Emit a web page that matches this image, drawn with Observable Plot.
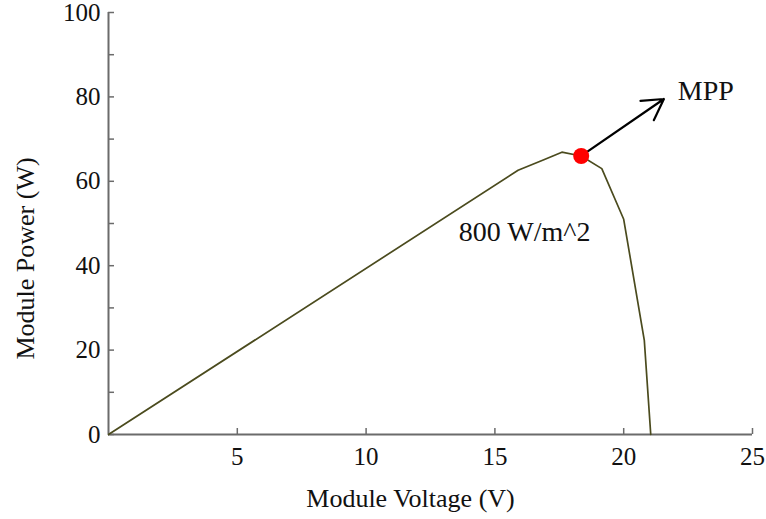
<!DOCTYPE html>
<html>
<head>
<meta charset="utf-8">
<script src="https://cdn.jsdelivr.net/npm/d3@7"></script>
<script src="https://cdn.jsdelivr.net/npm/@observablehq/plot@0.6"></script>
<style>
  html, body { margin: 0; padding: 0; background: #fff; }
  #chart svg { display: block; }
</style>
</head>
<body>
<div id="chart"></div>
<script>
// Data
const voltage = [0, 15.9, 16.9, 17.6, 18.35, 19.15, 20.0, 20.8, 21.05];
const power   = [0, 62.6, 65.1, 66.9, 66.0, 63.0, 51.0, 22.3, 0];
const mppPoint = [{v: 18.35, p: 66.0}];
const arrowEnd = [{v: 21.56, p: 79.5}];
const mppLabel = [{v: 22.1, p: 81.5, text: "MPP"}];
const irradianceLabel = [{v: 13.6, p: 47.9, text: "800 W/m^2"}];
const xTicks = [5, 10, 15, 20, 25];
const yTicks = [0, 10, 20, 30, 40, 50, 60, 70, 80, 90, 100];
const xTitle = "Module Voltage (V)";
const yTitle = "Module Power (W)";

const curve = voltage.map((v, i) => ({v, p: power[i]}));
const arrowData = [{x1: mppPoint[0].v, y1: mppPoint[0].p, x2: arrowEnd[0].v, y2: arrowEnd[0].p}];

const font = "'Liberation Serif', 'Times New Roman', serif";
const axisColor = "#6b6b6b";

const chart = Plot.plot({
  width: 766,
  height: 519,
  marginLeft: 108,
  marginRight: 14,
  marginTop: 12,
  marginBottom: 85,
  style: {fontFamily: font, fontSize: "25px", color: "#111", background: "#fff"},
  x: {domain: [0, 25]},
  y: {domain: [0, 100]},
  marks: [
    // tick labels
    Plot.axisX({ticks: xTicks, tickSize: 0, tickPadding: 13, label: null, fontSize: 25}),
    Plot.axisY({ticks: yTicks, tickSize: 0, tickPadding: 8, label: null, fontSize: 25,
      tickFormat: d => d % 20 === 0 ? d : ""}),
    // inward tick marks
    Plot.axisX({ticks: xTicks, tickSize: -6, tickFormat: () => "", label: null, stroke: axisColor, strokeWidth: 1.5}),
    Plot.axisY({ticks: yTicks, tickSize: -6, tickFormat: () => "", label: null, stroke: axisColor, strokeWidth: 1.5}),
    // axis lines
    Plot.ruleX([0], {stroke: axisColor, strokeWidth: 2}),
    Plot.ruleY([0], {stroke: axisColor, strokeWidth: 2}),
    // axis titles
    Plot.text([xTitle], {frameAnchor: "bottom", textAnchor: "middle", dx: -20, dy: 72, text: d => d, fontSize: 26}),
    Plot.text([yTitle], {frameAnchor: "left", textAnchor: "middle", dx: -83, dy: 35, rotate: -90, text: d => d, fontSize: 26}),
    // curve
    Plot.line(curve, {x: "v", y: "p", stroke: "#4b4b1e", strokeWidth: 1.7}),
    // arrow
    Plot.arrow(arrowData, {x1: "x1", y1: "y1", x2: "x2", y2: "y2", stroke: "#000", strokeWidth: 2.2, headLength: 16, insetStart: 4}),
    // MPP dot
    Plot.dot(mppPoint, {x: "v", y: "p", r: 8, fill: "#ff0000", stroke: null}),
    // labels
    Plot.text(mppLabel, {x: "v", y: "p", text: "text", textAnchor: "start", fontSize: 28, fill: "#111"}),
    Plot.text(irradianceLabel, {x: "v", y: "p", text: "text", textAnchor: "start", fontSize: 28, fill: "#111"})
  ]
});
document.getElementById("chart").appendChild(chart);
</script>
</body>
</html>
